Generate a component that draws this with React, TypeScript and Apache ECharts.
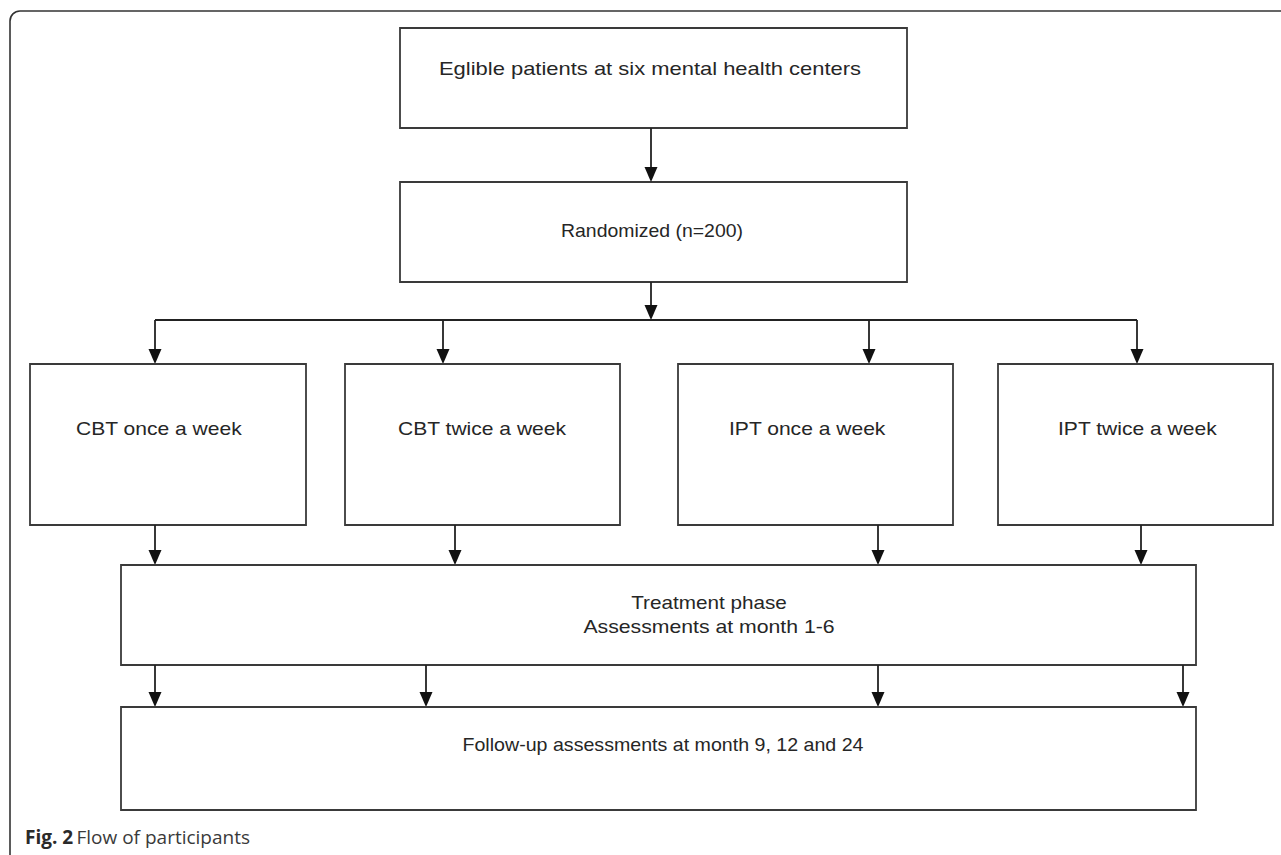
import React, { useEffect, useRef } from "react";
import * as echarts from "echarts";

// ---- content ----
const topSteps = ["Eglible patients at six mental health centers", "Randomized (n=200)"];
const arms = ["CBT once a week", "CBT twice a week", "IPT once a week", "IPT twice a week"];
const treatmentLines = ["Treatment phase", "Assessments at month 1-6"];
const followUp = "Follow-up assessments at month 9, 12 and 24";
const captionBold = "Fig. 2";
const captionText = "Flow of participants";

// ---- layout ----
const topBoxes = [
  { x: 400, y: 28, w: 507, h: 100, tx: 650, ty: 69, sx: 1.22 },
  { x: 400, y: 182, w: 507, h: 100, tx: 652, ty: 231, sx: 1.08 },
];
const branchY = 320;
const branchX = [155, 1137];
const armBoxes = [
  { x: 30, w: 276, inX: 155, outX: 155, tx: 76 },
  { x: 345, w: 275, inX: 443, outX: 455, tx: 398 },
  { x: 678, w: 275, inX: 869, outX: 878, tx: 729 },
  { x: 998, w: 275, inX: 1137, outX: 1141, tx: 1058 },
];
const armY = 364, armH = 161, armTextY = 429, armSX = 1.17;
const treatBox = { x: 121, y: 565, w: 1075, h: 100, tx: 709, ty: [603, 627], sx: [1.15, 1.18] };
const treatOutX = [155, 426, 878, 1183];
const followBox = { x: 121, y: 707, w: 1075, h: 103, tx: 663, ty: 745, sx: 1.09 };

const LINE = "#3a3a3a";
const TEXT = "#262626";
const FONT = "Liberation Sans, Arial, sans-serif";
const FS = 18;

function box(x: number, y: number, w: number, h: number) {
  return {
    type: "rect",
    shape: { x, y, width: w, height: h },
    style: { fill: "#fff", stroke: LINE, lineWidth: 1.8 },
  };
}

function arrow(x: number, y1: number, y2: number) {
  return [
    { type: "line", shape: { x1: x, y1, x2: x, y2: y2 - 10 }, style: { stroke: "#222", lineWidth: 1.8 } },
    {
      type: "polygon",
      shape: { points: [[x - 6.5, y2 - 15], [x + 6.5, y2 - 15], [x, y2]] },
      style: { fill: "#111" },
    },
  ];
}

function label(text: string, x: number, y: number, align: string, sx: number) {
  return {
    type: "text",
    x,
    y,
    scaleX: sx,
    style: {
      text,
      fill: TEXT,
      font: `${FS}px ${FONT}`,
      align,
      verticalAlign: "middle",
    },
  };
}

export default function App() {
  const ref = useRef<HTMLDivElement>(null);
  useEffect(() => {
    document.body.style.margin = "0";
    const chart = echarts.init(ref.current!, undefined, { renderer: "svg" });
    const els: any[] = [];
    els.push({
      type: "rect",
      shape: { x: 10, y: 11, width: 1320, height: 900, r: [10, 0, 0, 0] },
      style: { fill: "#fff", stroke: "#333", lineWidth: 1.6 },
    });
    topBoxes.forEach((b, i) => {
      els.push(box(b.x, b.y, b.w, b.h));
      els.push(label(topSteps[i], b.tx, b.ty, "center", b.sx));
    });
    els.push(...arrow(651, topBoxes[0].y + topBoxes[0].h, topBoxes[1].y));
    els.push(...arrow(651, topBoxes[1].y + topBoxes[1].h, branchY));
    els.push({
      type: "line",
      shape: { x1: branchX[0], y1: branchY, x2: branchX[1], y2: branchY },
      style: { stroke: "#222", lineWidth: 1.8 },
    });
    armBoxes.forEach((a, i) => {
      els.push(...arrow(a.inX, branchY, armY));
      els.push(box(a.x, armY, a.w, armH));
      els.push(label(arms[i], a.tx, armTextY, "left", armSX));
      els.push(...arrow(a.outX, armY + armH, treatBox.y));
    });
    els.push(box(treatBox.x, treatBox.y, treatBox.w, treatBox.h));
    treatmentLines.forEach((t, i) => els.push(label(t, treatBox.tx, treatBox.ty[i], "center", treatBox.sx[i])));
    treatOutX.forEach((x) => els.push(...arrow(x, treatBox.y + treatBox.h, followBox.y)));
    els.push(box(followBox.x, followBox.y, followBox.w, followBox.h));
    els.push(label(followUp, followBox.tx, followBox.ty, "center", followBox.sx));
    els.push({
      type: "text",
      x: 25,
      y: 837,
      style: {
        text: `{b|${captionBold}} {r|${captionText}}`,
        verticalAlign: "middle",
        rich: {
          b: { fontFamily: "Open Sans", fontWeight: "bold", fontSize: 19, fill: "#2a2a2a" },
          r: { fontFamily: "Open Sans", fontSize: 19, fill: "#3a3a3a" },
        },
      },
    });
    chart.setOption({ animation: false, graphic: { elements: els } });
    return () => chart.dispose();
  }, []);
  return <div ref={ref} style={{ width: 1281, height: 855 }} />;
}
